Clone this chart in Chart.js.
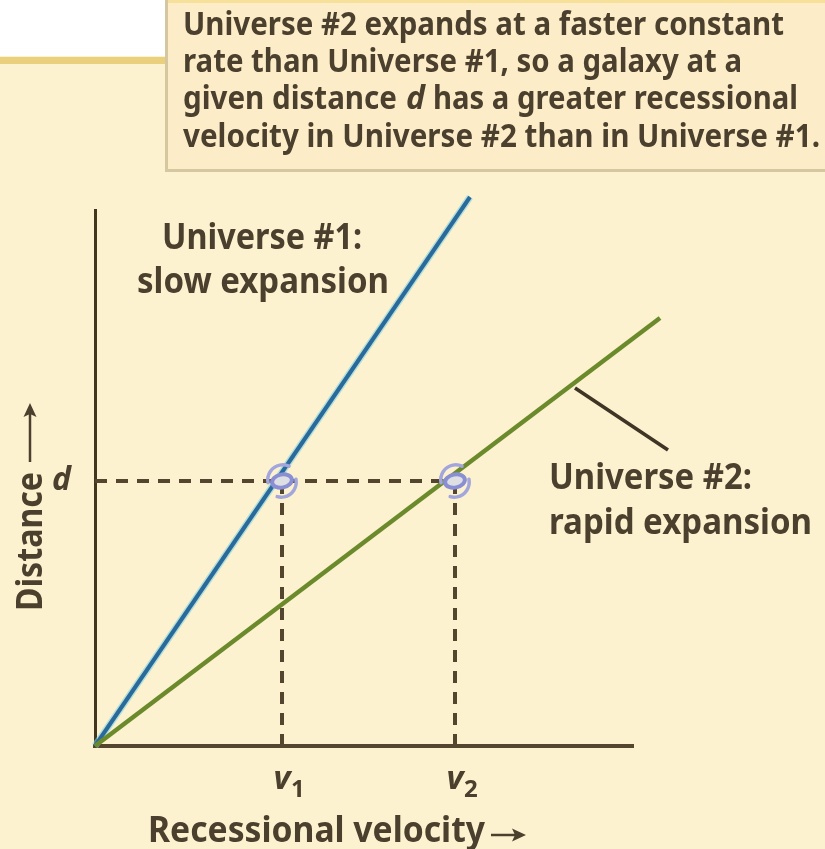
<!DOCTYPE html>
<html>
<head>
<meta charset="utf-8">
<style>
  html, body { margin: 0; padding: 0; background: #fdf2cf; }
  #wrap { position: relative; width: 825px; height: 849px; overflow: hidden; }
</style>
</head>
<body>
<div id="wrap"><canvas id="hubble" width="825" height="849"></canvas></div>
<script src="https://cdn.jsdelivr.net/npm/chart.js@4/dist/chart.umd.min.js"></script>
<script>
  // Values (arbitrary units, the axes have no numbers)
  const velocityTicks = [187, 360];
  const velocityTickLabels = ["v", "v"];
  const velocitySubscripts = ["1", "2"];
  const distanceTicks = [265];
  const distanceTickLabels = ["d"];

  const universe1X = [0, 375];
  const universe1Y = [0, 549];
  const universe2X = [0, 565];
  const universe2Y = [0, 428];
  const leaderX = [480, 573];
  const leaderY = [358, 296];
  const guideDX = [0, 360];
  const guideDY = [265, 265];
  const guideV1X = [187, 187];
  const guideV1Y = [0, 265];
  const guideV2X = [360, 360];
  const guideV2Y = [0, 265];
  const galaxyX = [187, 360];
  const galaxyY = [265, 265];

  const captionLines = [
    "Universe #2 expands at a faster constant",
    "rate than Universe #1, so a galaxy at a",
    "given distance",
    "velocity in Universe #2 than in Universe #1."
  ];

  const INK = "#4b3f2e";
  const AXIS = "#54452f";
  const FONT = '"Noto Sans", sans-serif';

  function toPoints(xs, ys) {
    return xs.map((x, i) => ({ x: x, y: ys[i] }));
  }

  function lineSet(xs, ys, color, width, dash) {
    return {
      type: "line",
      data: toPoints(xs, ys),
      borderColor: color,
      borderWidth: width,
      borderDash: dash || [],
      pointRadius: 0,
      fill: false,
      clip: false
    };
  }

  // Little spiral galaxy used as point marker
  function makeGalaxy() {
    const c = document.createElement("canvas");
    c.width = 50;
    c.height = 40;
    const g = c.getContext("2d");
    g.translate(25, 20);
    g.rotate(-0.2);
    g.lineCap = "round";
    g.strokeStyle = "#a3a6dc";
    g.lineWidth = 3.5;
    g.beginPath();
    g.arc(1, -1, 15, Math.PI * 1.0, Math.PI * 1.7);
    g.stroke();
    g.beginPath();
    g.arc(-1, 1, 15, 0, Math.PI * 0.65);
    g.stroke();
    g.fillStyle = "#dedfe2";
    g.strokeStyle = "#8a8fd4";
    g.lineWidth = 4;
    g.beginPath();
    g.ellipse(0, 0, 10, 6.5, 0, 0, Math.PI * 2);
    g.fill();
    g.stroke();
    return c;
  }

  // Fit one line of text between two x positions, condensing it if needed
  function fitText(ctx, text, x, y, maxW, font, color) {
    ctx.font = font;
    ctx.fillStyle = color || INK;
    ctx.textBaseline = "alphabetic";
    ctx.textAlign = "left";
    ctx.fillText(text, x, y, maxW);
  }

  function arrow(ctx, x0, y0, x1, y1) {
    const a = Math.atan2(y1 - y0, x1 - x0);
    ctx.strokeStyle = INK;
    ctx.fillStyle = INK;
    ctx.lineWidth = 2.5;
    ctx.beginPath();
    ctx.moveTo(x0, y0);
    ctx.lineTo(x1 - 8 * Math.cos(a), y1 - 8 * Math.sin(a));
    ctx.stroke();
    ctx.save();
    ctx.translate(x1, y1);
    ctx.rotate(a);
    ctx.beginPath();
    ctx.moveTo(0, 0);
    ctx.lineTo(-14, -6.5);
    ctx.lineTo(-11, 0);
    ctx.lineTo(-14, 6.5);
    ctx.closePath();
    ctx.fill();
    ctx.restore();
  }

  const backdrop = {
    id: "backdrop",
    beforeDraw(chart) {
      const ctx = chart.ctx;
      ctx.save();
      ctx.fillStyle = "#fdf2cf";
      ctx.fillRect(0, 0, 825, 849);
      ctx.fillStyle = "#ffffff";
      ctx.fillRect(0, 0, 170, 56);
      ctx.fillStyle = "#ead07c";
      ctx.fillRect(0, 57, 170, 7);
      ctx.fillStyle = "#d5c79f";
      ctx.fillRect(165, 0, 660, 172);
      ctx.fillStyle = "#fcedc8";
      ctx.fillRect(168, 0, 657, 169);
      ctx.fillStyle = "#f6e09a";
      ctx.fillRect(168, 0, 657, 3);
      ctx.restore();
    }
  };

  const labels = {
    id: "labels",
    afterDraw(chart) {
      const ctx = chart.ctx;
      const xs = chart.scales.x;
      const caption = "700 32px " + FONT;
      const bold = "700 35px " + FONT;
      ctx.save();

      // caption box
      fitText(ctx, captionLines[0], 183, 35, 601, caption);
      fitText(ctx, captionLines[1], 183, 72, 559, caption);
      fitText(ctx, captionLines[2], 183, 109, 214, caption);
      fitText(ctx, "d", 406, 109, 21, "italic " + caption);
      fitText(ctx, "has a greater recessional", 433, 109, 365, caption);
      fitText(ctx, captionLines[3], 183, 147, 637, caption);

      // series labels
      fitText(ctx, "Universe #1:", 162, 249, 200, bold);
      fitText(ctx, "slow expansion", 137, 293, 252, bold);
      fitText(ctx, "Universe #2:", 549, 489, 203, bold);
      fitText(ctx, "rapid expansion", 549, 534, 263, bold);

      // subscripts of the velocity ticks
      velocitySubscripts.forEach((s, i) => {
        const px = xs.getPixelForValue(velocityTicks[i]);
        fitText(ctx, s, px + 9, 797, 14, "700 24px " + FONT);
      });

      // axis names with their arrows
      fitText(ctx, "Recessional velocity", 148, 842, 337, bold);
      arrow(ctx, 491, 835, 526, 835);
      ctx.save();
      ctx.translate(42, 611);
      ctx.rotate(-Math.PI / 2);
      fitText(ctx, "Distance", 0, 0, 139, bold);
      ctx.restore();
      arrow(ctx, 30, 462, 30, 403);

      ctx.restore();
    }
  };

  // Chart.js paints the first dataset last, so the galaxies come first
  const chart = new Chart(document.getElementById("hubble"), {
    type: "scatter",
    plugins: [backdrop, labels],
    data: {
      datasets: [
        {
          type: "scatter",
          data: toPoints(galaxyX, galaxyY),
          pointStyle: makeGalaxy(),
          pointRadius: 20,
          clip: false
        },
        lineSet(leaderX, leaderY, "#3f3526", 3.5),
        lineSet(universe2X, universe2Y, "#6b8a2c", 4.5),
        lineSet(universe1X, universe1Y, "#2a6a9a", 4),
        lineSet(universe1X, universe1Y, "rgba(130,210,228,0.6)", 7),
        lineSet(guideDX, guideDY, AXIS, 4, [12, 9]),
        lineSet(guideV1X, guideV1Y, AXIS, 4, [12, 9]),
        lineSet(guideV2X, guideV2Y, AXIS, 4, [12, 9])
      ]
    },
    options: {
      responsive: false,
      animation: false,
      events: [],
      layout: { padding: { top: 210, right: 192, left: 0, bottom: 0 } },
      plugins: { legend: { display: false }, tooltip: { enabled: false } },
      scales: {
        x: {
          type: "linear",
          min: 0,
          max: 538,
          grid: { display: false },
          border: { color: AXIS, width: 4 },
          afterFit(s) { s.height = 103; },
          afterBuildTicks(s) { s.ticks = velocityTicks.map(v => ({ value: v })); },
          ticks: {
            autoSkip: false,
            maxRotation: 0,
            padding: 6,
            color: INK,
            font: { family: "Noto Sans", size: 33, style: "italic", weight: "700" },
            callback: (v, i) => velocityTickLabels[i]
          }
        },
        y: {
          type: "linear",
          min: 0,
          max: 536,
          grid: { display: false },
          border: { color: "#43361f", width: 3 },
          afterFit(s) { s.width = 95; },
          afterBuildTicks(s) { s.ticks = distanceTicks.map(v => ({ value: v })); },
          ticks: {
            autoSkip: false,
            padding: 16,
            color: INK,
            font: { family: "Noto Sans", size: 32, style: "italic", weight: "700" },
            callback: (v, i) => distanceTickLabels[i]
          }
        }
      }
    }
  });
</script>
</body>
</html>
